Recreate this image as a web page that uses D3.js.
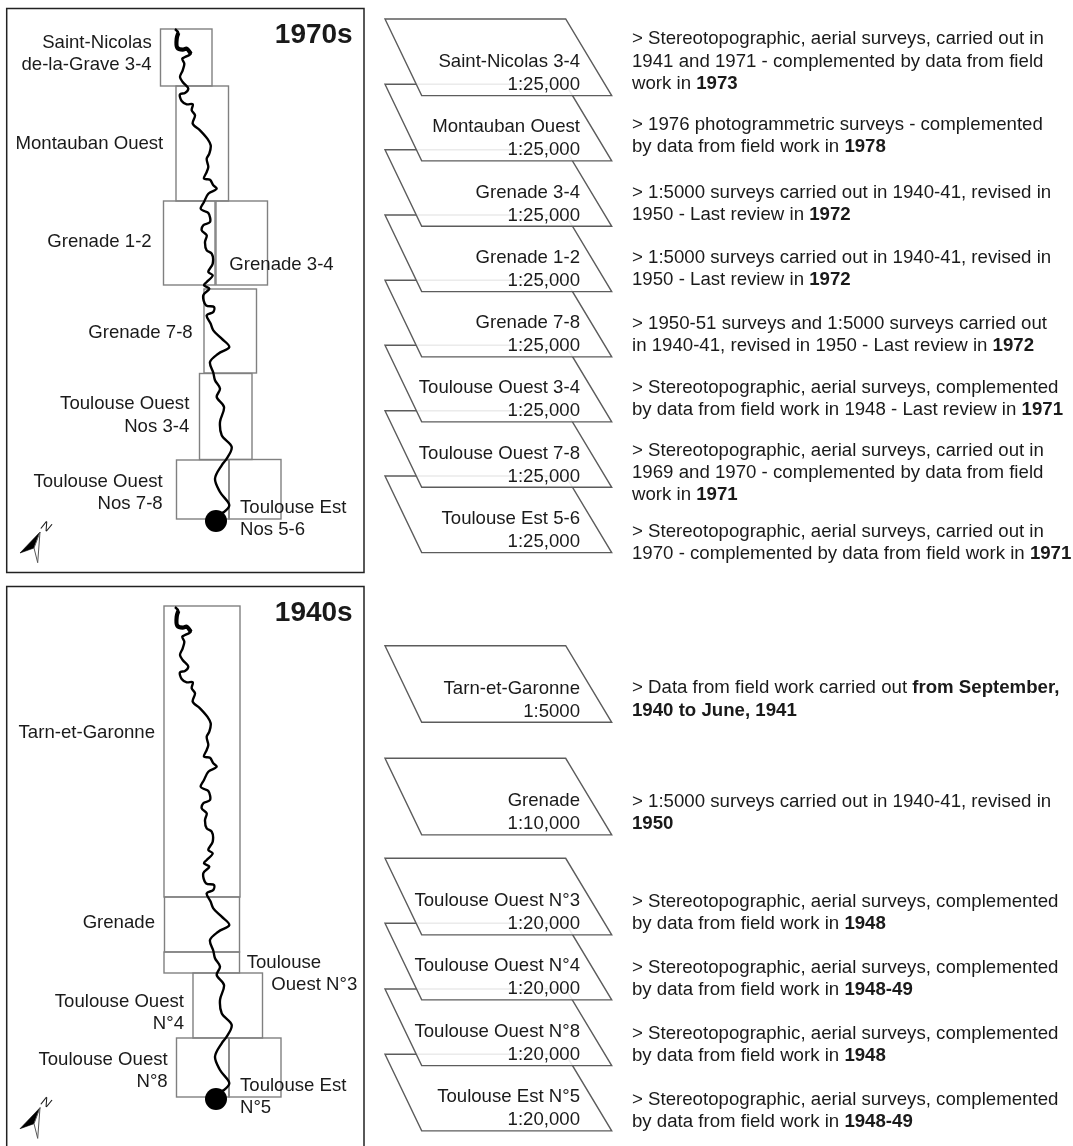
<!DOCTYPE html>
<html>
<head>
<meta charset="utf-8">
<script src="https://cdn.jsdelivr.net/npm/d3@7"></script>
<style>
	html, body { margin: 0; padding: 0; background: #fff; }
	svg { display: block; filter: blur(0.35px); }
	text { font-family: "Liberation Sans", Arial, sans-serif; fill: #1a1a1a; }
</style>
</head>
<body>
<div id="chart"></div>
<script>
var riverX = [169,172.3,170.7,171.3,176.7,180.7,184.7,179,176.3,178.3,176.7,174,176.7,182.3,179,174,175.7,180.7,186.7,185.7,189,186.7,194,201.3,204.7,203.3,200.7,202.3,200.7,198,204,207.3,210.7,202.3,198,194.7,198,202.3,204,197.3,195.7,200.7,199,200.7,205.7,206.7,202.3,206.7,200.7,198,203.3,197.3,200,208,207.3,200.7,204.7,207.3,215.7,223.3,212.3,204,207.3,209,214,210.7,218,214,215.7,225.7,220.7,215.7,209,214,223.3,218,214];
var riverY = [21,25,30.7,39.7,41.7,40.7,45.7,49,50.7,55.7,62.3,69,74,80.7,85,86.3,93,96.3,96.3,102.3,107.3,115.7,122.3,130.7,137.3,145.7,150.7,159,164,170.7,171.7,177.3,180.7,185.7,194,200.7,203,205,214,217.3,222.3,227.3,234,242.3,245.7,255.7,264,267.3,274,277.3,280.7,287.3,297.3,299,304,307.3,315.7,322.3,330.7,339,345.7,354,364.7,372.3,380.7,389,399,414,427.3,439,450.7,457.3,470.7,484,497.3,504,505.7];
var cityX = 210, cityY = 513;

// Map sheets: [west, north, east, south]
var sheetExtents1970 = [[154.5,21,206,78],[170,78,222.5,193],[157.5,193,209,277],[210,193,261.5,277],[198,281,250.5,365],[193.5,365.5,246,451.5],[170.5,452,223,511],[223,451.5,275,511]];
var sheetExtents1940 = [[158,20,234,311],[158.5,311,233.5,366],[158,366,233.5,387],[187,387,256.5,452],[170.5,452,223,511],[223,452,275,511]];

var mapLabels1970 = ["Saint-Nicolas","de-la-Grave 3-4","Montauban Ouest","Grenade 1-2","Grenade 3-4","Grenade 7-8","Toulouse Ouest","Nos 3-4","Toulouse Ouest","Nos 7-8","Toulouse Est","Nos 5-6"];
var mapLabels1940 = ["Tarn-et-Garonne","Grenade","Toulouse","Ouest N°3","Toulouse Ouest","N°4","Toulouse Ouest","N°8","Toulouse Est","N°5"];

var cardNames1970 = ["Saint-Nicolas 3-4","Montauban Ouest","Grenade 3-4","Grenade 1-2","Grenade 7-8","Toulouse Ouest 3-4","Toulouse Ouest 7-8","Toulouse Est 5-6"];
var cardScales1970 = ["1:25,000","1:25,000","1:25,000","1:25,000","1:25,000","1:25,000","1:25,000","1:25,000"];
var cardNames1940 = ["Tarn-et-Garonne","Grenade","Toulouse Ouest N°3","Toulouse Ouest N°4","Toulouse Ouest N°8","Toulouse Est N°5"];
var cardScales1940 = ["1:5000","1:10,000","1:20,000","1:20,000","1:20,000","1:20,000"];

// Notes: each line is [regular, bold]
var notes1970 = [
	[["> Stereotopographic, aerial surveys, carried out in",""],["1941 and 1971 - complemented by data from field",""],["work in ","1973"]],
	[["> 1976 photogrammetric surveys - complemented",""],["by data from field work in ","1978"]],
	[["> 1:5000 surveys carried out in 1940-41, revised in",""],["1950 - Last review in ","1972"]],
	[["> 1:5000 surveys carried out in 1940-41, revised in",""],["1950 - Last review in ","1972"]],
	[["> 1950-51 surveys and 1:5000 surveys carried out",""],["in 1940-41, revised in 1950 - Last review in ","1972"]],
	[["> Stereotopographic, aerial surveys, complemented",""],["by data from field work in 1948 - Last review in ","1971"]],
	[["> Stereotopographic, aerial surveys, carried out in",""],["1969 and 1970 - complemented by data from field",""],["work in ","1971"]],
	[["> Stereotopographic, aerial surveys, carried out in",""],["1970 - complemented by data from field work in ","1971"]]
];
var notes1940 = [
	[["> Data from field work carried out ","from September,"],["","1940 to June, 1941"]],
	[["> 1:5000 surveys carried out in 1940-41, revised in",""],["","1950"]],
	[["> Stereotopographic, aerial surveys, complemented",""],["by data from field work in ","1948"]],
	[["> Stereotopographic, aerial surveys, complemented",""],["by data from field work in ","1948-49"]],
	[["> Stereotopographic, aerial surveys, complemented",""],["by data from field work in ","1948"]],
	[["> Stereotopographic, aerial surveys, complemented",""],["by data from field work in ","1948-49"]]
];

// Layout
var WIDTH = 1073, HEIGHT = 1146;
var labelSize = 18.6, noteSize = 18.65, noteLeading = 22.3;
var labelPlaces1970 = [["end",151.7,48.3],["end",151.7,69.5],["end",163.3,149],["end",151.7,246.7],["start",229.3,270],["end",192.7,338.3],["end",189.3,409.3],["end",189.3,431.7],["end",162.7,486.7],["end",162.7,509],["start",240,512.7],["start",240,535]];
var labelPlaces1940 = [["end",155,737.7],["end",155,928.3],["start",246.7,967.7],["end",357.3,990],["end",184,1007.3],["end",184,1029.3],["end",167.7,1065],["end",167.7,1087.3],["start",240,1091],["start",240,1113.3]];
var cardTops1970 = [19,84.3,149.7,215,280.3,345.3,410.7,476];
var cardTops1940 = [645.7,758.3,858.3,923.3,989,1054.3];
var noteTops1970 = [44.3,130,198,263,329,392.7,455.7,536.7];
var noteTops1940 = [693.3,806.7,906.7,972.7,1038.7,1104.7];

var svg = d3.select("#chart").append("svg").attr("width", WIDTH).attr("height", HEIGHT);

var mapX = d3.scaleLinear().domain([0, 358]).range([6, 364]);

function drawPanel(opts){
	var mapY = d3.scaleLinear().domain([0, 564]).range([opts.top, opts.top + 564]);
	var g = svg.append("g");

	g.append("rect")
		.attr("x", mapX(0.7)).attr("y", opts.top + 0.5)
		.attr("width", mapX(358) - mapX(0.7))
		.attr("height", opts.frameHeight)
		.attr("fill", "none").attr("stroke", "#222").attr("stroke-width", 1.5);

	g.selectAll("rect.sheet").data(opts.extents).enter().append("rect")
		.attr("class", "sheet")
		.attr("x", function(d){ return mapX(d[0]); })
		.attr("y", function(d){ return mapY(d[1]); })
		.attr("width", function(d){ return mapX(d[2]) - mapX(d[0]); })
		.attr("height", function(d){ return mapY(d[3]) - mapY(d[1]); })
		.attr("fill", "none").attr("stroke", "#808080").attr("stroke-width", 1.4);

	var points = riverX.map(function(x, i){ return [x, riverY[i]]; });
	var line = d3.line()
		.x(function(d){ return mapX(d[0]); })
		.y(function(d){ return mapY(d[1]); })
		.curve(d3.curveCatmullRom.alpha(0.5));

	g.append("path").attr("d", line(points))
		.attr("fill", "none").attr("stroke", "#000").attr("stroke-width", 2.4).attr("stroke-linejoin", "round");
	// the river is wider on the first stretch
	g.append("path").attr("d", line(points.slice(1, 7)))
		.attr("fill", "none").attr("stroke", "#000").attr("stroke-width", 4.2).attr("stroke-linejoin", "round");

	g.append("circle")
		.attr("cx", mapX(cityX)).attr("cy", mapY(cityY)).attr("r", 11)
		.attr("fill", "#000");

	g.selectAll("text.label").data(opts.labels).enter().append("text")
		.attr("class", "label")
		.attr("text-anchor", function(d, i){ return opts.places[i][0]; })
		.attr("x", function(d, i){ return opts.places[i][1]; })
		.attr("y", function(d, i){ return opts.places[i][2]; })
		.attr("font-size", labelSize)
		.text(function(d){ return d; });

	g.append("text")
		.attr("text-anchor", "end").attr("x", 352.7).attr("y", opts.top + 35)
		.attr("font-size", 28).attr("font-weight", "bold")
		.attr("fill", "#000")
		.text(opts.title);

	// north arrow
	var arrow = g.append("g").attr("transform", "translate(0," + opts.arrowDy + ")");
	arrow.append("path").attr("d", "M40,532L20,553L34,548Z").attr("fill", "#000").attr("stroke", "#000").attr("stroke-width", 0.6);
	arrow.append("path").attr("d", "M40,532L34,548L37.7,562.7Z").attr("fill", "#fff").attr("stroke", "#555").attr("stroke-width", 1);
	arrow.append("text")
		.attr("transform", "translate(40,528) rotate(28)")
		.attr("font-size", 13).attr("font-style", "italic")
		.text("N");
}

function drawCards(names, scales, tops){
	var g = svg.append("g");
	var order = d3.range(names.length).reverse();
	// lower sheets first, so the upper ones lie over them
	order.forEach(function(i){
		var t = tops[i];
		g.append("path")
			.attr("d", d3.line()([[385,t],[565.7,t],[611.7,t + 76.6],[421.7,t + 76.6]]) + "Z")
			.attr("fill", "#fff").attr("fill-opacity", 0.88)
			.attr("stroke", "#5c5c5c").attr("stroke-width", 1.4);
	});
	names.forEach(function(name, i){
		g.append("text").attr("text-anchor", "end").attr("x", 580).attr("y", tops[i] + 48)
			.attr("font-size", labelSize).text(name);
		g.append("text").attr("text-anchor", "end").attr("x", 580).attr("y", tops[i] + 71)
			.attr("font-size", labelSize).text(scales[i]);
	});
}

function drawNotes(notes, tops){
	var g = svg.append("g");
	notes.forEach(function(block, i){
		block.forEach(function(row, j){
			var t = g.append("text").attr("x", 632).attr("y", tops[i] + j * noteLeading).attr("font-size", noteSize);
			t.append("tspan").text(row[0]);
			t.append("tspan").attr("font-weight", "bold").text(row[1]);
		});
	});
}

drawPanel({ top: 8, frameHeight: 564, title: "1970s", extents: sheetExtents1970, labels: mapLabels1970, places: labelPlaces1970, arrowDy: 0 });
drawPanel({ top: 586, frameHeight: 600, title: "1940s", extents: sheetExtents1940, labels: mapLabels1940, places: labelPlaces1940, arrowDy: 575.7 });

drawCards(cardNames1970, cardScales1970, cardTops1970);
drawCards(cardNames1940, cardScales1940, cardTops1940);
drawNotes(notes1970, noteTops1970);
drawNotes(notes1940, noteTops1940);
</script>
</body>
</html>
